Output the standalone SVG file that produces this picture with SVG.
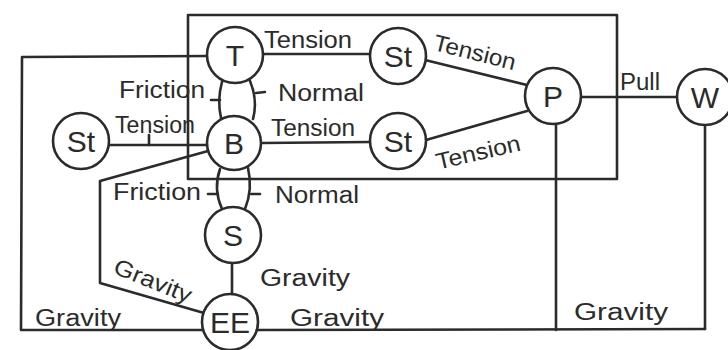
<svg xmlns="http://www.w3.org/2000/svg" width="728" height="350" viewBox="0 0 728 350">
<style>
.n circle{fill:#fff;stroke:#2b2b2b;stroke-width:2.6}
.n text{font-family:"Liberation Sans",Arial,sans-serif;font-size:30px;fill:#2b2b2b;text-anchor:middle}
.c line,.c path,.c polyline,.c rect{fill:none;stroke:#2b2b2b;stroke-width:2.6;stroke-linecap:round;stroke-linejoin:round}
.l text{font-family:"Liberation Sans",Arial,sans-serif;font-size:23px;fill:#2b2b2b;text-anchor:middle}
</style>
<rect width="728" height="350" fill="#fff"/>
<g class="c" id="connectors">
<rect x="188" y="15" width="429" height="164"/>
<polyline points="209,56 22,57 21,330 204,330"/>
<line x1="257" y1="330" x2="705" y2="329"/>
<line x1="556" y1="124" x2="556" y2="330"/>
<line x1="705" y1="125" x2="705" y2="329"/>
<line x1="263" y1="54" x2="370" y2="54"/>
<line x1="425" y1="60" x2="527" y2="85"/>
<line x1="262" y1="143" x2="370" y2="142"/>
<line x1="426" y1="140" x2="527" y2="111"/>
<line x1="581" y1="97" x2="678" y2="97"/>
<line x1="109" y1="145" x2="207" y2="145"/>
<line x1="149" y1="145" x2="149" y2="135"/>
<polyline points="208,151 100,181 100,283 204,313"/>
<line x1="232" y1="263" x2="232" y2="294"/>
<path d="M222,82 Q217,100 221,118"/>
<path d="M250,81 Q258,100 253,119"/>
<line x1="220" y1="100" x2="211" y2="100"/>
<line x1="256" y1="93" x2="265" y2="92"/>
<path d="M220,169 Q213,189 222,209"/>
<path d="M248,168 Q253,189 245,209"/>
<line x1="216" y1="194" x2="208" y2="194"/>
<line x1="251" y1="194" x2="260" y2="194"/>
</g>
<g class="l" id="labels">
<text x="308" y="48" textLength="88" lengthAdjust="spacingAndGlyphs">Tension</text>
<text x="162" y="98" textLength="86" lengthAdjust="spacingAndGlyphs">Friction</text>
<text x="321" y="101" textLength="86" lengthAdjust="spacingAndGlyphs">Normal</text>
<text x="155" y="133" textLength="80" lengthAdjust="spacingAndGlyphs">Tension</text>
<text x="313" y="136" textLength="84" lengthAdjust="spacingAndGlyphs">Tension</text>
<text x="0" y="0" transform="translate(473,60) rotate(14)" textLength="84" lengthAdjust="spacingAndGlyphs">Tension</text>
<text x="0" y="0" transform="translate(480,160) rotate(-13)" textLength="86" lengthAdjust="spacingAndGlyphs">Tension</text>
<text x="640" y="90" textLength="40" lengthAdjust="spacingAndGlyphs">Pull</text>
<text x="157" y="200" textLength="88" lengthAdjust="spacingAndGlyphs">Friction</text>
<text x="317" y="203" textLength="84" lengthAdjust="spacingAndGlyphs">Normal</text>
<text x="0" y="0" transform="translate(150,288) rotate(22)" textLength="82" lengthAdjust="spacingAndGlyphs">Gravity</text>
<text x="305" y="286" textLength="90" lengthAdjust="spacingAndGlyphs">Gravity</text>
<text x="78" y="326" textLength="86" lengthAdjust="spacingAndGlyphs">Gravity</text>
<text x="337" y="326" textLength="94" lengthAdjust="spacingAndGlyphs">Gravity</text>
<text x="621" y="320" textLength="94" lengthAdjust="spacingAndGlyphs">Gravity</text>
</g>
<g class="n" id="T"><circle cx="235" cy="55" r="28"/><text x="235" y="66">T</text></g>
<g class="n" id="B"><circle cx="234" cy="143" r="27"/><text x="234" y="154">B</text></g>
<g class="n" id="StLeft"><circle cx="81" cy="141" r="28"/><text x="81" y="152">St</text></g>
<g class="n" id="StTop"><circle cx="398" cy="56" r="28"/><text x="398" y="67">St</text></g>
<g class="n" id="StBottom"><circle cx="398" cy="141" r="28"/><text x="398" y="152">St</text></g>
<g class="n" id="P"><circle cx="553" cy="96" r="28"/><text x="553" y="107">P</text></g>
<g class="n" id="W"><circle cx="705" cy="97" r="28"/><text x="705" y="108">W</text></g>
<g class="n" id="S"><circle cx="233" cy="235" r="28"/><text x="233" y="246">S</text></g>
<g class="n" id="EE"><circle cx="230" cy="322" r="28"/><text x="230" y="333">EE</text></g>
</svg>
